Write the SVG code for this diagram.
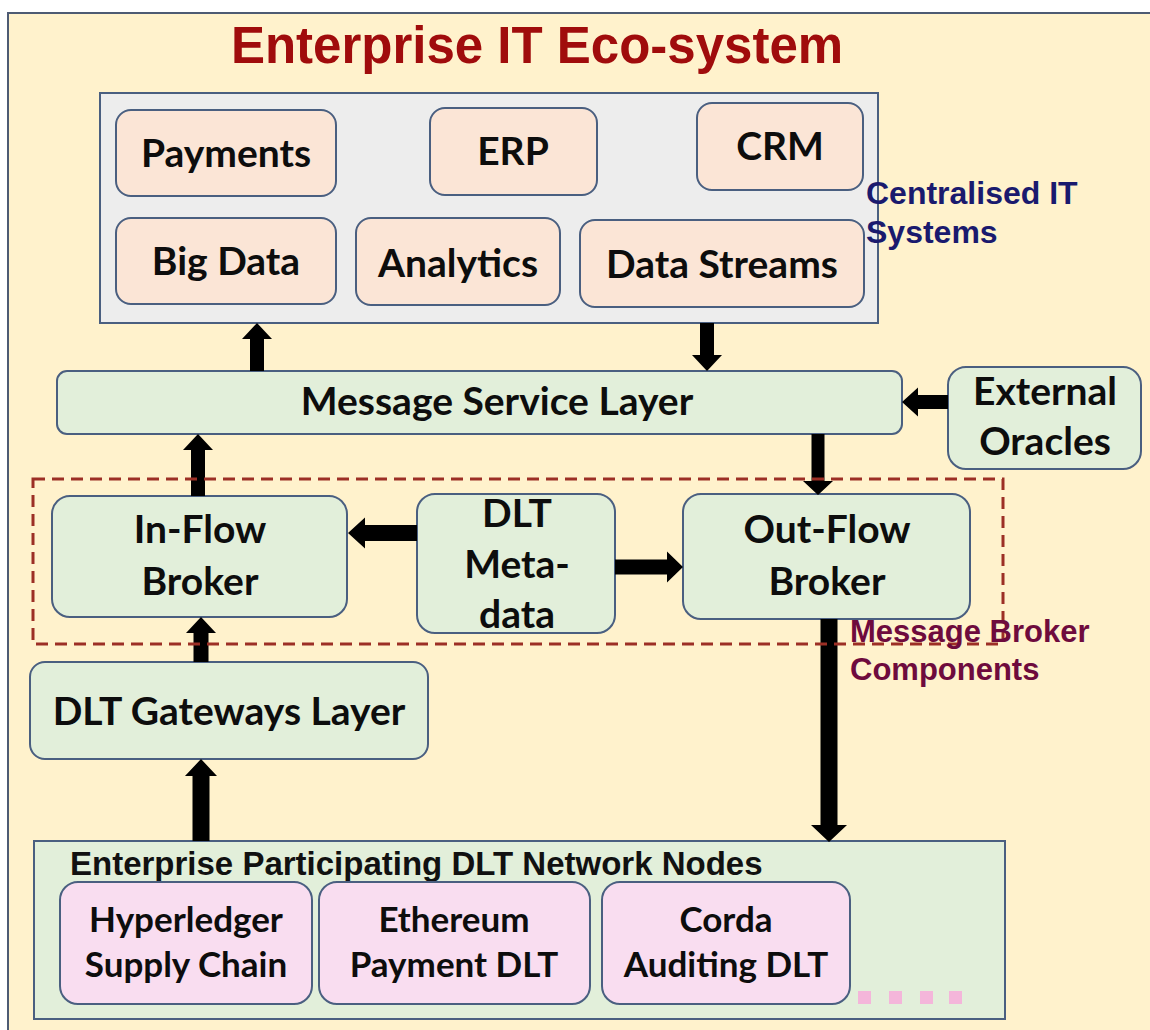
<svg xmlns="http://www.w3.org/2000/svg" width="1150" height="1030" viewBox="0 0 1150 1030">
  <style>
    .frame { fill: #FFF2CC; stroke: #4E5B73; stroke-width: 2; }
    .group-gray { fill: #EDEDED; stroke: #4A5F80; stroke-width: 2; }
    .peach { fill: #FBE5D6; stroke: #4A5F80; stroke-width: 2; }
    .green { fill: #E2EFDA; stroke: #4A5F80; stroke-width: 2; }
    .pink { fill: #F9DDF0; stroke: #4A5F80; stroke-width: 2; }
    .lbl { font-family: Lato, "Noto Sans", sans-serif; font-weight: 700; fill: #0D0D0D; text-anchor: middle; font-size: 39px; }
    .lbl-sm { font-size: 35px; }
    .sans { font-family: "Liberation Sans", Arial, sans-serif; font-weight: 700; }
    .title { font-size: 51px; fill: #A00C0C; text-anchor: middle; }
    .note-blue { font-size: 32px; fill: #1A1A6E; }
    .note-red { font-size: 31px; fill: #6E0B3D; }
    .arrow { fill: #000; }
    .broker-frame { fill: none; stroke: #9C2F25; stroke-width: 3; stroke-dasharray: 12 7; }
    .dot { fill: #F4B6DA; }
  </style>

  <!-- outer ecosystem frame -->
  <rect class="frame" x="8" y="13" width="1160" height="1027"/>
  <text class="sans title" x="537" y="63">Enterprise IT Eco-system</text>

  <!-- centralised IT systems -->
  <g id="centralised-it">
    <rect class="group-gray" x="100" y="93" width="778" height="230"/>
    <text class="sans note-blue" x="866" y="204">Centralised IT</text>
    <text class="sans note-blue" x="866" y="243">Systems</text>
  </g>
  <g id="payments">
    <rect class="peach" x="116" y="110" width="220" height="86" rx="15"/>
    <text class="lbl" x="226" y="167">Payments</text>
  </g>
  <g id="erp">
    <rect class="peach" x="430" y="108" width="167" height="87" rx="15"/>
    <text class="lbl" x="513" y="165">ERP</text>
  </g>
  <g id="crm">
    <rect class="peach" x="697" y="103" width="166" height="87" rx="15"/>
    <text class="lbl" x="780" y="160">CRM</text>
  </g>
  <g id="big-data">
    <rect class="peach" x="116" y="218" width="220" height="86" rx="15"/>
    <text class="lbl" x="226" y="275">Big Data</text>
  </g>
  <g id="analytics">
    <rect class="peach" x="356" y="218" width="204" height="87" rx="15"/>
    <text class="lbl" x="458" y="277">Analytics</text>
  </g>
  <g id="data-streams">
    <rect class="peach" x="580" y="220" width="284" height="87" rx="15"/>
    <text class="lbl" x="722" y="278">Data Streams</text>
  </g>

  <!-- messaging layer -->
  <g id="message-service-layer">
    <rect class="green" x="57" y="371" width="845" height="63" rx="10"/>
    <text class="lbl" x="497" y="415">Message Service Layer</text>
  </g>
  <g id="external-oracles">
    <rect class="green" x="948" y="367" width="193" height="102" rx="18"/>
    <text class="lbl" x="1045" y="405">External</text>
    <text class="lbl" x="1045" y="455">Oracles</text>
  </g>

  <!-- broker components -->
  <g id="in-flow-broker">
    <rect class="green" x="52" y="496" width="295" height="121" rx="18"/>
    <text class="lbl" x="200" y="543">In-Flow</text>
    <text class="lbl" x="200" y="595">Broker</text>
  </g>
  <g id="dlt-metadata">
    <rect class="green" x="417" y="494" width="198" height="139" rx="18"/>
    <text class="lbl" x="517" y="527">DLT</text>
    <text class="lbl" x="517" y="578">Meta-</text>
    <text class="lbl" x="517" y="628">data</text>
  </g>
  <g id="out-flow-broker">
    <rect class="green" x="683" y="494" width="287" height="125" rx="18"/>
    <text class="lbl" x="827" y="543">Out-Flow</text>
    <text class="lbl" x="827" y="595">Broker</text>
  </g>

  <g id="dlt-gateways-layer">
    <rect class="green" x="30" y="662" width="398" height="97" rx="15"/>
    <text class="lbl" x="229" y="725">DLT Gateways Layer</text>
  </g>

  <!-- participating DLT network nodes -->
  <g id="dlt-network-nodes">
    <rect class="green" x="34" y="841" width="971" height="178"/>
    <text class="sans" x="70" y="875" font-size="33" fill="#111">Enterprise Participating DLT Network Nodes</text>
    <rect class="dot" x="858" y="991" width="13" height="13"/>
    <rect class="dot" x="889" y="991" width="13" height="13"/>
    <rect class="dot" x="920" y="991" width="13" height="13"/>
    <rect class="dot" x="949" y="991" width="13" height="13"/>
  </g>
  <g id="hyperledger">
    <rect class="pink" x="60" y="882" width="252" height="122" rx="18"/>
    <text class="lbl lbl-sm" x="186" y="932">Hyperledger</text>
    <text class="lbl lbl-sm" x="186" y="977">Supply Chain</text>
  </g>
  <g id="ethereum">
    <rect class="pink" x="319" y="882" width="271" height="122" rx="18"/>
    <text class="lbl lbl-sm" x="454" y="932">Ethereum</text>
    <text class="lbl lbl-sm" x="454" y="977">Payment DLT</text>
  </g>
  <g id="corda">
    <rect class="pink" x="602" y="882" width="248" height="122" rx="18"/>
    <text class="lbl lbl-sm" x="726" y="932">Corda</text>
    <text class="lbl lbl-sm" x="726" y="977">Auditing DLT</text>
  </g>

  <!-- block arrows -->
  <g id="connectors">
    <polygon class="arrow" points="250,371 250,339 242,339 257,323 272,339 264,339 264,371"/>
    <polygon class="arrow" points="700,323 700,355 692,355 707,371 722,355 714,355 714,323"/>
    <polygon class="arrow" points="191,496 191,450 183,450 198,434 213,450 205,450 205,496"/>
    <polygon class="arrow" points="193.5,662 193.5,633 186,633 201,617 216,633 208.5,633 208.5,662"/>
    <polygon class="arrow" points="192.5,841 192.5,776 185,776 201,759 217,776 209.5,776 209.5,841"/>
    <polygon class="arrow" points="948,395 918,395 918,387.5 902,402 918,416.5 918,409 948,409"/>
    <polygon class="arrow" points="811.5,434 811.5,481 803,481 818,495 833,481 824.5,481 824.5,434"/>
    <polygon class="arrow" points="417,525 365,525 365,517.5 348,533 365,548.5 365,541 417,541"/>
    <polygon class="arrow" points="615,559.5 667,559.5 667,551.5 683,567 667,582.5 667,574.5 615,574.5"/>
    <polygon class="arrow" points="820.5,619 820.5,825 811,825 829,842 847,825 837.5,825 837.5,619"/>
  </g>

  <!-- dashed boundary of the broker components -->
  <g id="message-broker-components">
    <rect class="broker-frame" x="33" y="479" width="970" height="165"/>
    <text class="sans note-red" x="850" y="642">Message Broker</text>
    <text class="sans note-red" x="850" y="680">Components</text>
  </g>
</svg>
